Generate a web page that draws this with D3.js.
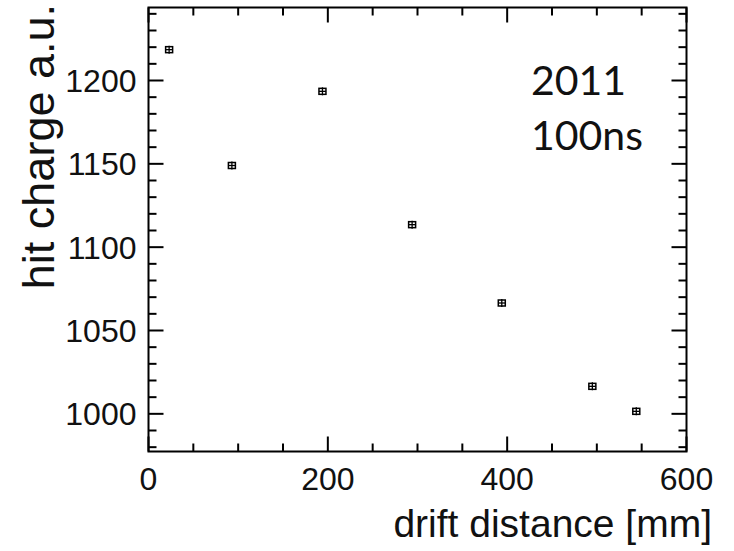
<!DOCTYPE html>
<html>
<head>
<meta charset="utf-8">
<script src="https://cdn.jsdelivr.net/npm/d3@7"></script>
<style>
  body { margin: 0; background: #fff; }
  svg { display: block; }
  .tick-label { font-family: 'Liberation Sans', Arial, sans-serif; font-size: 32px; fill: #111; }
  .title { font-family: 'Liberation Sans', Arial, sans-serif; font-size: 39px; fill: #111; }
  .note { font-family: Lato, 'Open Sans', sans-serif; font-size: 41px; fill: #111; }
</style>
</head>
<body>
<div id="chart"></div>
<script>
/* global d3 */

// values
const distance = [23, 93, 194, 294, 394, 495, 544]
const charge = [1218.5, 1149, 1193.5, 1113.5, 1066.5, 1016.5, 1001.5]
const xTicks = [0, 200, 400, 600]
const yTicks = [1000, 1050, 1100, 1150, 1200]

const width = 734
const height = 551
const margin = {left: 148.5, right: 47.5, top: 7.5, bottom: 99.5}

const x = d3.scaleLinear().domain([0, 600]).range([margin.left, width - margin.right])
const y = d3.scaleLinear().domain([977.4, 1243.8]).range([height - margin.bottom, margin.top])

const svg = d3.select('#chart')
  .append('svg')
  .attr('width', width)
  .attr('height', height)

// ticks on all four sides, ROOT style
const xMinor = d3.range(0, 601, 50)
const yMinor = d3.range(980, 1241, 10)

function tickLines (g, vals, pos, isMajor, horiz, inward) {
  g.selectAll(null)
    .data(vals)
    .enter()
    .append('line')
    .attr('stroke', '#000')
    .attr('stroke-width', 2)
    .each(function (d) {
      const len = isMajor(d) ? 15 : 8
      const el = d3.select(this)
      if (horiz) {
        el.attr('x1', pos(d)).attr('x2', pos(d))
          .attr('y1', inward.base).attr('y2', inward.base + inward.dir * len)
      } else {
        el.attr('y1', pos(d)).attr('y2', pos(d))
          .attr('x1', inward.base).attr('x2', inward.base + inward.dir * len)
      }
    })
}

const frame = svg.append('g')
const yBottom = y.range()[0]
const yTop = y.range()[1]
const xLeft = x.range()[0]
const xRight = x.range()[1]

tickLines(frame, xMinor, x, d => d % 200 === 0, true, {base: yBottom, dir: -1})
tickLines(frame, xMinor, x, d => d % 200 === 0, true, {base: yTop, dir: 1})
tickLines(frame, yMinor, y, d => d % 50 === 0, false, {base: xLeft, dir: 1})
tickLines(frame, yMinor, y, d => d % 50 === 0, false, {base: xRight, dir: -1})

frame.append('rect')
  .attr('x', xLeft)
  .attr('y', yTop)
  .attr('width', xRight - xLeft)
  .attr('height', yBottom - yTop)
  .attr('fill', 'none')
  .attr('stroke', '#000')
  .attr('stroke-width', 2)

// tick labels
svg.append('g')
  .selectAll('text')
  .data(xTicks)
  .enter()
  .append('text')
  .attr('class', 'tick-label')
  .attr('x', d => x(d))
  .attr('y', yBottom + 38)
  .attr('text-anchor', 'middle')
  .text(d => d)

svg.append('g')
  .selectAll('text')
  .data(yTicks)
  .enter()
  .append('text')
  .attr('class', 'tick-label')
  .attr('x', xLeft - 12)
  .attr('y', d => y(d) + 11.5)
  .attr('text-anchor', 'end')
  .text(d => d)

// axis titles
svg.append('text')
  .attr('class', 'title')
  .attr('x', 712)
  .attr('y', 537)
  .attr('text-anchor', 'end')
  .text('drift distance [mm]')

svg.append('text')
  .attr('class', 'title')
  .style('font-size', '45px')
  .attr('transform', 'translate(54, 4) rotate(-90)')
  .attr('text-anchor', 'end')
  .text('hit charge a.u.')

// annotation
svg.append('text')
  .attr('class', 'note')
  .attr('x', 531)
  .attr('y', 95)
  .text('2011')

svg.append('text')
  .attr('class', 'note')
  .attr('x', 531)
  .attr('y', 150)
  .text('100ns')

// data points: small box with error cross
const pts = svg.append('g')
  .selectAll('g')
  .data(distance.map((d, i) => ({d: d, q: charge[i]})))
  .enter()
  .append('g')
  .attr('transform', p => `translate(${x(p.d)},${y(p.q)})`)

pts.append('rect')
  .attr('x', -3.5)
  .attr('y', -3)
  .attr('width', 7)
  .attr('height', 6)
  .attr('fill', 'none')
  .attr('stroke', '#000')
  .attr('stroke-width', 1.5)

pts.append('line')
  .attr('x1', -3.5).attr('x2', 3.5)
  .attr('y1', 0).attr('y2', 0)
  .attr('stroke', '#000')
  .attr('stroke-width', 1.3)

pts.append('line')
  .attr('x1', 0).attr('x2', 0)
  .attr('y1', -4).attr('y2', 4)
  .attr('stroke', '#000')
  .attr('stroke-width', 1.3)
</script>
</body>
</html>
